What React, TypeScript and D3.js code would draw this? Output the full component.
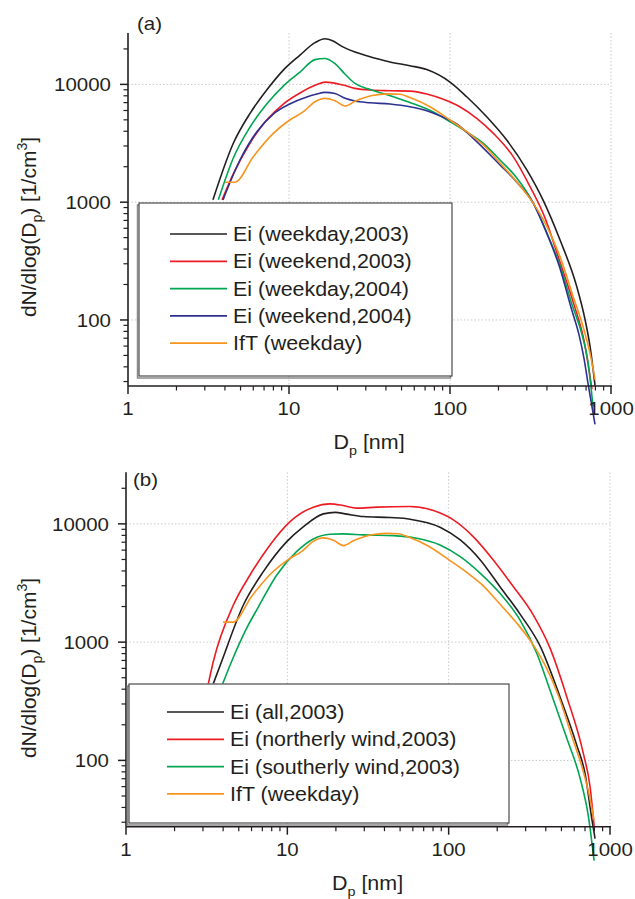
import React from "react";
import * as d3 from "d3";

// ---------- data ----------
const xTickValues = [1, 10, 100, 1000];
const xTickLabels = ["1", "10", "100", "1000"];
const yTickValues = [100, 1000, 10000];
const yTickLabels = ["100", "1000", "10000"];

// [Dp (nm), dN/dlogDp (1/cm3)]
const eiWeekday2003: [number, number][] = [
  [3.37, 1046], [4.51, 3162], [5.73, 5678], [7.27, 8950], [9.22, 13220], [11.7, 17710],
  [14.5, 22600], [16.7, 24400], [18.8, 23300], [21.6, 20800], [25.7, 18800], [30.4, 17500],
  [42.4, 15500], [56.4, 14400], [71.7, 13360], [100, 10460], [127, 7850], [169, 5315],
  [225, 3370], [300, 1880], [378, 1046], [482, 479], [612, 193], [690, 100.6], [741, 59.7],
  [796, 27.7],
];
const eiWeekend2003: [number, number][] = [
  [3.84, 1046], [4.51, 1737], [5.73, 3180], [7.27, 4985], [9.22, 6810], [11.7, 8440],
  [14.9, 9960], [16.7, 10460], [18.8, 10300], [21.7, 9860], [25.7, 9250], [31.8, 8950],
  [42.4, 8830], [56.4, 8770], [71.7, 8280], [90.9, 7460], [115, 6460], [146.5, 5150],
  [186, 3840], [247, 2435], [314, 1356], [389, 736], [482, 310], [589, 135], [680, 66.8],
  [762, 25.7],
];
const eiWeekday2004: [number, number][] = [
  [3.64, 1046], [4.51, 2374], [5.73, 4346], [7.27, 6810], [9.22, 9670], [11.7, 12710],
  [14.5, 16230], [16.7, 16600], [19.3, 15000], [22.3, 12200], [25.7, 10200], [31.0, 9160],
  [41.2, 8120], [56.4, 7010], [78.8, 5825], [100, 4820], [127, 3945], [161, 3160],
  [204.5, 2280], [260, 1607], [329, 986], [400, 549], [482, 290], [572.5, 135], [660.6, 75],
  [719.7, 44], [773, 18.4],
];
const eiWeekend2004: [number, number][] = [
  [3.89, 1046], [4.96, 2280], [6.3, 3942], [7.99, 5602], [10.1, 6810], [12.9, 7805],
  [14.9, 8275], [16.7, 8555], [19.3, 8360], [22.3, 7610], [25.7, 7220], [31.8, 6985],
  [42.4, 6810], [56.4, 6460], [71.7, 5975], [90.9, 5250], [110, 4610], [139.5, 3485],
  [204.5, 2070], [260, 1480], [328, 986], [400, 539], [482, 275], [564, 128], [632.7, 75],
  [680, 47], [722.8, 28], [795.6, 13],
];
const iftWeekday: [number, number][] = [
  [4.0, 1477], [4.62, 1477], [6.0, 2435], [7.99, 3840], [10.1, 4985], [12.3, 5860],
  [14.5, 7120], [16.7, 7610], [19.3, 7260], [22.3, 6550], [25.7, 7190], [32.8, 8040],
  [41.2, 8310], [48.9, 8245], [56.4, 7730], [75.1, 6460], [100, 4985], [127, 3965],
  [161, 3060], [204.5, 2150], [260, 1486], [328, 986], [400, 620], [482, 345], [580, 160],
  [670, 88], [741, 52], [796, 31.2],
];
const eiAll2003: [number, number][] = [
  [3.48, 447], [3.92, 690], [5.34, 2060], [7.1, 3945], [9.92, 7080], [12.6, 9490],
  [16.7, 12150], [19.8, 12520], [23.3, 12090], [29.6, 11530], [43.3, 11310], [57.6, 10960],
  [88.4, 9375], [118, 7315], [157, 4955], [208, 2940], [277, 1727], [369, 925], [491, 342],
  [623, 134], [701, 77], [771, 32.2], [808, 21.8],
];
const eiNortherly2003: [number, number][] = [
  [3.24, 447], [3.48, 690], [4.63, 2060], [5.87, 3695], [7.81, 6640], [10.4, 10460],
  [14.5, 13850], [18.4, 14770], [22.2, 14300], [26.9, 13600], [35.8, 13850], [57.6, 14020],
  [80.4, 12960], [107, 10810], [142, 7805], [189, 4955], [252, 2940], [335, 1693],
  [425, 890], [540, 344], [684, 114], [753, 59.5], [800, 26.4],
];
const eiSoutherly2003: [number, number][] = [
  [3.98, 447], [4.52, 690], [5.6, 1314], [6.61, 1980], [8.6, 3695], [11.4, 5825],
  [14.5, 7460], [18.4, 8180], [22.2, 8230], [29.6, 8070], [45.4, 7960], [63.4, 7565],
  [88.4, 6640], [118, 5285], [157, 3820], [208, 2587], [277, 1536], [352, 802],
  [425, 392], [540, 153.6], [653, 70.4], [735, 33.5], [797, 14.2],
];

const BLACK = "#231f20";
const RED = "#ed1c24";
const GREEN = "#00a651";
const BLUE = "#2e3192";
const ORANGE = "#f7941d";

const seriesA = [
  { name: "Ei (weekday,2003)", color: BLACK, data: eiWeekday2003 },
  { name: "Ei (weekend,2003)", color: RED, data: eiWeekend2003 },
  { name: "Ei (weekday,2004)", color: GREEN, data: eiWeekday2004 },
  { name: "Ei (weekend,2004)", color: BLUE, data: eiWeekend2004 },
  { name: "IfT (weekday)", color: ORANGE, data: iftWeekday },
];
const seriesB = [
  { name: "Ei (all,2003)", color: BLACK, data: eiAll2003 },
  { name: "Ei (northerly wind,2003)", color: RED, data: eiNortherly2003 },
  { name: "Ei (southerly wind,2003)", color: GREEN, data: eiSoutherly2003 },
  { name: "IfT (weekday)", color: ORANGE, data: iftWeekday },
];

const FONT = "'Liberation Sans', Arial, Helvetica, sans-serif";
const SX = 1.1;

function SText(props: { x: number; y: number; size: number; anchor?: string; children: any }) {
  const { x, y, size, anchor = "start", children } = props;
  return (
    <text
      transform={`translate(${x},${y}) scale(${SX},1)`}
      textAnchor={anchor as any}
      fontSize={size}
      fontFamily={FONT}
      fill={BLACK}
    >
      {children}
    </text>
  );
}

type PanelProps = {
  x0: number; x1: number; yTop: number; yBot: number;
  label: string; labelX: number; labelY: number;
  series: { name: string; color: string; data: [number, number][] }[];
  legend: { x: number; y: number; w: number; h: number; lineX: number; textX: number; row0: number };
  yLabelCenter: number;
  xLabelY: number;
};

function Panel(p: PanelProps) {
  const x = d3.scaleLog().domain([1, 1000]).range([p.x0, p.x1]);
  const y = d3.scaleLog().domain([27.5, 27300]).range([p.yBot, p.yTop]);
  const line = d3
    .line<[number, number]>()
    .x((d) => x(d[0]))
    .y((d) => y(d[1]))
    .curve(d3.curveMonotoneX);

  const xMinor: number[] = [];
  [1, 10, 100].forEach((dec) => {
    for (let k = 2; k <= 9; k++) xMinor.push(dec * k);
  });
  const yMinor: number[] = [];
  [10, 100, 1000, 10000].forEach((dec) => {
    for (let k = 2; k <= 9; k++) {
      const v = dec * k;
      if (v >= 27.5 && v <= 27300) yMinor.push(v);
    }
  });

  const grid = "#c8c8c8";
  const rowStep = 27.3;

  return (
    <g>
      {/* grid */}
      {xTickValues.slice(1).map((v) => (
        <line key={"gx" + v} x1={x(v)} x2={x(v)} y1={p.yTop} y2={p.yBot}
          stroke={grid} strokeWidth={1} strokeDasharray="1.5 2" />
      ))}
      {yTickValues.map((v) => (
        <line key={"gy" + v} x1={p.x0} x2={p.x1} y1={y(v)} y2={y(v)}
          stroke={grid} strokeWidth={1} strokeDasharray="1.5 2" />
      ))}

      {/* curves */}
      {p.series.map((s) => (
        <path key={s.name} d={line(s.data) || ""} fill="none" stroke={s.color} strokeWidth={1.6}
          strokeLinejoin="round" />
      ))}

      {/* axes */}
      <line x1={p.x0} x2={p.x0} y1={p.yTop} y2={p.yBot} stroke={BLACK} strokeWidth={1.6} />
      <line x1={p.x0} x2={p.x1 + 1} y1={p.yBot} y2={p.yBot} stroke={BLACK} strokeWidth={1.6} />
      {xTickValues.map((v) => (
        <line key={"xt" + v} x1={x(v)} x2={x(v)} y1={p.yBot} y2={p.yBot + 8} stroke={BLACK} strokeWidth={1.5} />
      ))}
      {xMinor.map((v) => (
        <line key={"xm" + v} x1={x(v)} x2={x(v)} y1={p.yBot} y2={p.yBot + 4.5} stroke={BLACK} strokeWidth={1.2} />
      ))}
      {yTickValues.map((v) => (
        <line key={"yt" + v} x1={p.x0 - 8} x2={p.x0} y1={y(v)} y2={y(v)} stroke={BLACK} strokeWidth={1.5} />
      ))}
      {yMinor.map((v) => (
        <line key={"ym" + v} x1={p.x0 - 4.5} x2={p.x0} y1={y(v)} y2={y(v)} stroke={BLACK} strokeWidth={1.2} />
      ))}
      {xTickValues.map((v, i) => (
        <SText key={"xl" + v} x={x(v)} y={p.yBot + 29} size={18.6} anchor="middle">{xTickLabels[i]}</SText>
      ))}
      {yTickValues.map((v, i) => (
        <SText key={"yl" + v} x={p.x0 - 17} y={y(v) + 7} size={18.6} anchor="end">{yTickLabels[i]}</SText>
      ))}

      {/* panel label */}
      <SText x={p.labelX} y={p.labelY} size={18.6}>{p.label}</SText>

      {/* axis titles */}
      <text transform={`translate(${(p.x0 + p.x1) / 2 - 36},${p.xLabelY}) scale(${SX},1)`}
        fontSize={19.5} fontFamily={FONT} fill={BLACK}>
        D<tspan fontSize={13} dy={6}>p</tspan><tspan dy={-6}> [nm]</tspan>
      </text>
      <text transform={`translate(36,${p.yLabelCenter}) rotate(-90)`} textAnchor="middle"
        fontSize={21} fontFamily={FONT} fill={BLACK}>
        dN/dlog(D<tspan fontSize={14} dy={6}>p</tspan><tspan dy={-6}>) [1/cm</tspan>
        <tspan fontSize={14} dy={-9}>3</tspan><tspan dy={9}>]</tspan>
      </text>

      {/* legend */}
      <rect x={p.legend.x - 1.5} y={p.legend.y + 2} width={p.legend.w} height={p.legend.h}
        fill="none" stroke="#8a8a8a" strokeWidth={1.5} />
      <rect x={p.legend.x} y={p.legend.y} width={p.legend.w} height={p.legend.h}
        fill="#ffffff" stroke="#3a3a3a" strokeWidth={1.1} />
      {p.series.map((s, i) => {
        const cy = p.legend.row0 + i * rowStep;
        return (
          <g key={"lg" + s.name}>
            <line x1={p.legend.lineX} x2={p.legend.lineX + 57} y1={cy} y2={cy} stroke={s.color} strokeWidth={1.7} />
            <SText x={p.legend.textX} y={cy + 7} size={19.5}>{s.name}</SText>
          </g>
        );
      })}
    </g>
  );
}

export default function App() {
  return (
    <svg width={635} height={899} viewBox="0 0 635 899"
      style={{ position: "absolute", left: 0, top: 0, background: "#fff" }}>
      <rect x={0} y={0} width={635} height={899} fill="#fff" />
      <Panel
        x0={128} x1={611} yTop={33} yBot={386}
        label="(a)" labelX={137} labelY={30}
        series={seriesA}
        legend={{ x: 139, y: 203, w: 313, h: 173, lineX: 170, textX: 233, row0: 234 }}
        yLabelCenter={227}
        xLabelY={449}
      />
      <Panel
        x0={126} x1={610} yTop={472.3} yBot={826.7}
        label="(b)" labelX={133} labelY={486}
        series={seriesB}
        legend={{ x: 129, y: 684, w: 380, h: 139, lineX: 167, textX: 230, row0: 712 }}
        yLabelCenter={668}
        xLabelY={890}
      />
    </svg>
  );
}
